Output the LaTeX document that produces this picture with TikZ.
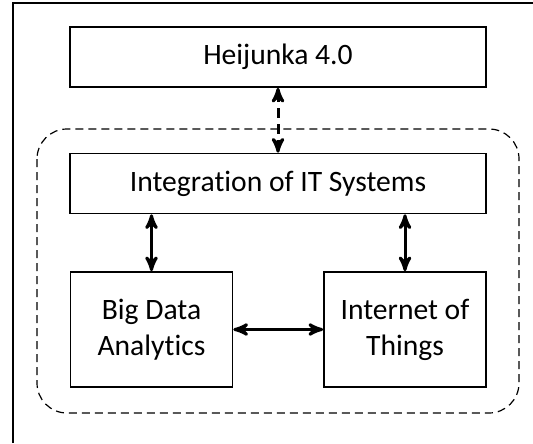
\documentclass[tikz,border=0pt]{standalone}
\usepackage{fontspec}
\setmainfont{Carlito}[RawFeature=-liga]
\usepackage{tikz}
\usetikzlibrary{arrows}
\usetikzlibrary{positioning}
\newlength{\hjunit}
\setlength{\hjunit}{0.5pt}
\tikzstyle{boxstyle}=[draw, line width=0.8pt, anchor=center, align=center, inner sep=2pt, font=\fontsize{14.8}{18}\selectfont]
\tikzstyle{wide}=[rectangle, boxstyle, minimum width=416\hjunit, minimum height=60\hjunit]
\tikzstyle{tech}=[rectangle, boxstyle, minimum width=162\hjunit, minimum height=115\hjunit]
\tikzstyle{linkstyle}=[draw, line width=1.5pt, <->, >=stealth']
\tikzstyle{grouplink}=[linkstyle, dash pattern=on 5pt off 3pt]
\tikzstyle{groupstyle}=[draw, line width=0.6pt, dash pattern=on 4pt off 2.5pt, rounded corners=15pt]
\newcommand{\hjbox}[4]{\node [#1] (#2) at (#3) {#4};}
\begin{document}
\begin{tikzpicture}[x=\hjunit, y=-\hjunit]
\useasboundingbox (0,0) rectangle (533,443);
% frame
\draw [line width=1pt] (13,443) -- (13,3) -- (533,3);
% group of enabling technologies
\draw [groupstyle] (37,129) rectangle (519,413);
\hjbox{wide}{heij}{278,57}{Heijunka 4.0}
\hjbox{wide}{integ}{278,183.5}{Integration of IT Systems}
\hjbox{tech}{bigdata}{151.5,329.5}{Big Data\\Analytics}
\hjbox{tech}{iot}{405,329.5}{Internet of\\Things}
\draw [grouplink] (heij) -- (integ);
\draw [linkstyle] (integ.south -| bigdata.north) -- (bigdata.north);
\draw [linkstyle] (integ.south -| iot.north) -- (iot.north);
\draw [linkstyle] (bigdata.east) -- (iot.west);
\end{tikzpicture}
\end{document}
